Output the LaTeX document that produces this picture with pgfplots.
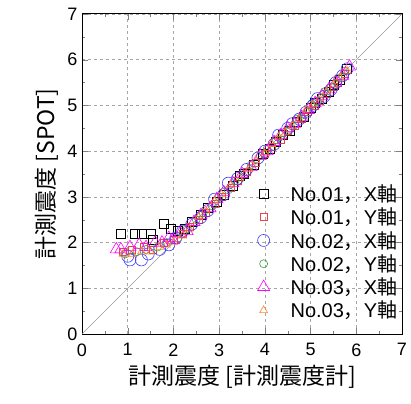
\documentclass[border=0pt]{standalone}
\usepackage{fontspec}
\setmainfont{Liberation Sans}
\newfontfamily\jp{Noto Sans CJK JP}
\usepackage{pgfplots}
\pgfplotsset{compat=1.18}
\definecolor{cred}{RGB}{230,70,70}
\definecolor{cblue}{RGB}{60,60,255}
\definecolor{cgreen}{RGB}{60,160,60}
\definecolor{cmag}{RGB}{255,0,255}
\definecolor{corange}{RGB}{255,130,40}
\begin{document}
\begin{tikzpicture}
\begin{axis}[
  scale only axis, width=320pt, height=320pt,
  xmin=0, xmax=7, ymin=0, ymax=7,
  xtick={0,...,7}, ytick={0,...,7},
  minor tick num=1,
  tick align=inside,
  major tick length=6pt, minor tick length=3pt,
  axis line style={line width=1pt},
  grid=major,
  major grid style={dashed, gray!70, line width=0.6pt},
  /pgf/number format/assume math mode=true,
  tick label style={font=\fontsize{18}{18}\selectfont},
  xticklabel style={yshift=-6pt},
  yticklabel style={xshift=-1pt},
  xlabel={\jp 計測震度 [計測震度計]},
  ylabel={\jp 計測震度 [SPOT]},
  label style={font=\fontsize{23}{23}\selectfont},
  xlabel style={yshift=-2pt},
  ylabel style={yshift=2pt},
  legend style={draw=none, fill=none, at={(0.53,0.475)}, anchor=north west,
    font=\fontsize{20}{20}\selectfont, row sep=4pt,
    nodes={inner sep=0.5pt}},
  legend cell align=left,
  legend image code/.code={\draw[#1] plot coordinates {(0.3cm,0cm)}; \path (0cm,0cm) (1.22cm,0cm);},
]
\addplot[gray!80, line width=0.5pt, forget plot] coordinates {(0,0) (7,7)};
\addplot[only marks, mark=square, mark size=4.5pt, black, line width=0.6pt] coordinates {
(0.85,2.2)(1.15,2.2)(1.3,2.2)(1.5,2.2)(1.55,2.05)(1.8,2.4)(1.95,2.3)(2.1,2.25)(2.25,2.3)(2.4,2.45)(2.6,2.6)(2.75,2.75)(2.95,2.9)(3.1,3.05)(3.3,3.25)(3.45,3.45)(3.55,3.5)(3.75,3.7)(3.95,3.95)(4.1,4.05)(4.25,4.2)(4.4,4.35)(4.55,4.45)(4.7,4.65)(4.85,4.75)(5.0,4.95)(5.1,5.05)(5.25,5.15)(5.4,5.3)(5.5,5.45)(5.65,5.55)(5.8,5.8)};
\addlegendentry{No.01{\jp ，}X{\jp 軸}}
\addplot[only marks, mark=square, mark size=3.5pt, cred, line width=0.6pt] coordinates {
(0.9,1.8)(1.1,1.85)(1.35,1.9)(1.55,1.85)(1.8,2.0)(2.0,2.05)(2.2,2.2)(2.35,2.35)(2.55,2.5)(2.7,2.65)(2.9,2.85)(3.05,3.0)(3.25,3.2)(3.4,3.35)(3.6,3.55)(3.8,3.75)(4.0,3.95)(4.15,4.1)(4.35,4.25)(4.5,4.45)(4.65,4.55)(4.8,4.7)(4.95,4.85)(5.1,5.0)(5.2,5.1)(5.35,5.25)(5.5,5.4)(5.6,5.5)(5.75,5.7)};
\addlegendentry{No.01{\jp ，}Y{\jp 軸}}
\addplot[only marks, mark=o, mark size=6pt, cblue, line width=0.6pt] coordinates {
(1.0,1.7)(1.05,1.62)(1.3,1.62)(1.45,1.75)(1.7,1.85)(1.9,1.95)(2.05,2.1)(2.2,2.25)(2.4,2.4)(2.6,2.55)(2.75,2.7)(2.9,2.95)(3.1,3.05)(3.2,3.3)(3.4,3.4)(3.6,3.6)(3.85,3.85)(4.0,4.0)(4.2,4.15)(4.3,4.35)(4.5,4.5)(4.6,4.6)(4.75,4.7)(4.9,4.85)(5.05,5.0)(5.15,5.15)(5.3,5.2)(5.45,5.35)(5.55,5.5)(5.7,5.65)(5.8,5.8)};
\addlegendentry{No.02{\jp ，}X{\jp 軸}}
\addplot[only marks, mark=o, mark size=4pt, cgreen, line width=0.6pt] coordinates {
(0.95,1.75)(1.2,1.8)(1.4,1.85)(1.65,1.9)(1.85,2.0)(2.1,2.1)(2.3,2.3)(2.5,2.5)(2.65,2.65)(2.85,2.8)(3.0,3.0)(3.2,3.15)(3.35,3.35)(3.55,3.5)(3.7,3.7)(3.9,3.9)(4.05,4.05)(4.25,4.25)(4.4,4.4)(4.55,4.5)(4.7,4.7)(4.85,4.8)(5.0,5.0)(5.15,5.1)(5.3,5.3)(5.45,5.4)(5.6,5.6)(5.75,5.75)};
\addlegendentry{No.02{\jp ，}Y{\jp 軸}}
\addplot[only marks, mark=triangle, mark size=7pt, cmag, line width=0.6pt] coordinates {
(0.75,1.85)(0.85,1.85)(1.05,1.9)(1.25,1.95)(1.4,1.9)(1.6,2.0)(1.75,2.0)(1.9,2.1)(2.0,2.05)(2.15,2.2)(2.3,2.25)(2.45,2.45)(2.6,2.6)(2.8,2.75)(2.95,2.95)(3.1,3.1)(3.3,3.3)(3.5,3.5)(3.7,3.65)(3.9,3.9)(4.05,4.0)(4.2,4.2)(4.35,4.35)(4.5,4.5)(4.65,4.6)(4.8,4.75)(4.95,4.9)(5.1,5.05)(5.25,5.2)(5.4,5.35)(5.55,5.5)(5.7,5.65)(5.85,5.85)};
\addlegendentry{No.03{\jp ，}X{\jp 軸}}
\addplot[only marks, mark=triangle, mark size=4.5pt, corange, line width=0.6pt] coordinates {
(0.9,1.75)(1.1,1.75)(1.3,1.8)(1.5,1.8)(1.7,1.9)(1.85,1.95)(2.0,2.0)(2.2,2.15)(2.35,2.3)(2.55,2.55)(2.7,2.7)(2.9,2.9)(3.05,3.05)(3.25,3.25)(3.45,3.4)(3.65,3.6)(3.8,3.8)(4.0,3.95)(4.15,4.15)(4.3,4.3)(4.45,4.4)(4.6,4.55)(4.75,4.7)(4.9,4.9)(5.05,5.0)(5.2,5.15)(5.35,5.3)(5.5,5.45)(5.65,5.6)(5.8,5.75)};
\addlegendentry{No.03{\jp ，}Y{\jp 軸}}
\end{axis}
\pgfresetboundingbox
\path (-82pt,-69pt) rectangle (329pt,334pt);
\end{tikzpicture}
\end{document}
